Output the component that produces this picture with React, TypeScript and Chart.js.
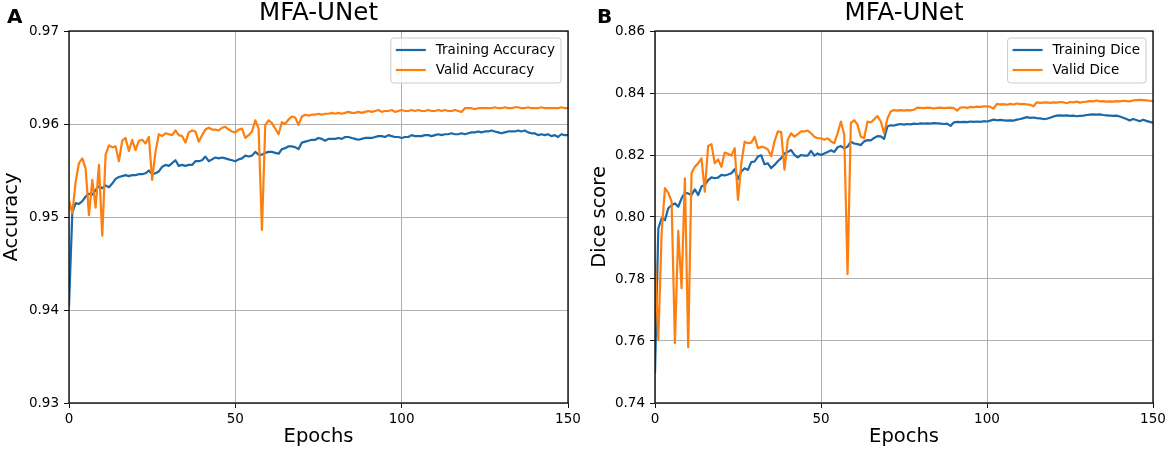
import { useEffect, useRef } from 'react';
import { Chart, registerables } from 'chart.js';

Chart.register(...registerables);

// epoch indices 0..150 (x categories)
const epochs = Array.from({ length: 151 }, (_, i) => i);
const epochTicks = [0, 50, 100, 150];
const accuracyTicks = [0.93, 0.94, 0.95, 0.96, 0.97];
const diceTicks = [0.74, 0.76, 0.78, 0.8, 0.82, 0.84, 0.86];

const trainingAccuracy = [
  0.9404, 0.9505, 0.9515, 0.9514, 0.9517, 0.9522, 0.9525, 0.9524, 0.9529, 0.9533,
  0.9531, 0.9534, 0.9532, 0.9536, 0.9541, 0.9543, 0.9544, 0.9545, 0.9544, 0.9545,
  0.9545, 0.9546, 0.9546, 0.9547, 0.955, 0.9546, 0.9547, 0.9549, 0.9554, 0.9556,
  0.9555, 0.9558, 0.9561, 0.9555, 0.9556, 0.9555, 0.9556, 0.9556, 0.956, 0.956,
  0.9561, 0.9565, 0.956, 0.9562, 0.9564, 0.9563, 0.9564, 0.9563, 0.9562, 0.9561,
  0.956, 0.9562, 0.9563, 0.9566, 0.9565, 0.9566, 0.957, 0.9567, 0.9567, 0.9569,
  0.957, 0.957, 0.9569, 0.9568, 0.9573, 0.9574, 0.9576, 0.9576, 0.9575, 0.9573,
  0.958, 0.9581, 0.9582, 0.9583, 0.9583, 0.9585, 0.9584, 0.9582, 0.9584, 0.9584,
  0.9584, 0.9585, 0.9584, 0.9586, 0.9586, 0.9585, 0.9584, 0.9583, 0.9584, 0.9585,
  0.9585, 0.9585, 0.9586, 0.9587, 0.9587, 0.9586, 0.9588, 0.9587, 0.9586, 0.9586,
  0.9585, 0.9586, 0.9586, 0.9588, 0.9587, 0.9587, 0.9587, 0.9588, 0.9588, 0.9587,
  0.9588, 0.9589, 0.9588, 0.9589, 0.9589, 0.959, 0.9589, 0.9589, 0.959, 0.9589,
  0.959, 0.9591, 0.9591, 0.9592, 0.9591, 0.9592, 0.9592, 0.9593, 0.9592, 0.9591,
  0.959, 0.9591, 0.9592, 0.9592, 0.9592, 0.9593, 0.9592, 0.9593, 0.9591, 0.959,
  0.959, 0.9588, 0.9589, 0.9588, 0.9589, 0.9587, 0.9588, 0.9586, 0.9589, 0.9588,
  0.9588,
];

const validAccuracy = [
  0.9518, 0.9504, 0.9538, 0.9558, 0.9563, 0.9552, 0.9502, 0.954, 0.951, 0.9556,
  0.948, 0.9567, 0.9577, 0.9575, 0.9576, 0.956, 0.9582, 0.9585, 0.9571, 0.9583,
  0.9572, 0.9582, 0.9583, 0.9579, 0.9586, 0.954, 0.957, 0.9589, 0.9587, 0.959,
  0.9589, 0.9588, 0.9593, 0.9588, 0.9587, 0.958, 0.9591, 0.9593, 0.9592, 0.9581,
  0.9588, 0.9594, 0.9596, 0.9594, 0.9594, 0.9593, 0.9596, 0.9597, 0.9594, 0.9592,
  0.9591, 0.9594, 0.9595, 0.9585, 0.9588, 0.9592, 0.9604, 0.9595, 0.9486, 0.9599,
  0.9604, 0.9601, 0.9595, 0.9589, 0.9602, 0.96, 0.9605, 0.9608, 0.9607, 0.9599,
  0.9608, 0.961, 0.9609, 0.961, 0.961, 0.9611, 0.961, 0.9611, 0.9611, 0.9612,
  0.9611, 0.9612, 0.9611, 0.9612, 0.9613, 0.9612, 0.9612, 0.9613, 0.9612, 0.9613,
  0.9614, 0.9613, 0.9614, 0.9615, 0.9613, 0.9614, 0.9614, 0.9615, 0.9613, 0.9614,
  0.9615, 0.9614, 0.9614, 0.9615, 0.9614, 0.9615, 0.9614, 0.9614, 0.9615, 0.9614,
  0.9614, 0.9615, 0.9614, 0.9615, 0.9614, 0.9614, 0.9615, 0.9614, 0.9613, 0.9617,
  0.9617, 0.9617, 0.9616, 0.9617, 0.9617, 0.9617, 0.9617, 0.9617, 0.9618, 0.9617,
  0.9617, 0.9618, 0.9617, 0.9617, 0.9618, 0.9618, 0.9617, 0.9617, 0.9618, 0.9617,
  0.9617, 0.9617, 0.9618, 0.9617, 0.9617, 0.9617, 0.9617, 0.9617, 0.9618, 0.9617,
  0.9617,
];

const trainingDice = [
  0.7496, 0.7963, 0.7996, 0.799, 0.8028, 0.8038, 0.8044, 0.8033, 0.806, 0.8078,
  0.8076, 0.8071, 0.8089, 0.8071, 0.8098, 0.8103, 0.8119, 0.8128, 0.8125, 0.8127,
  0.8136, 0.8134, 0.8137, 0.8141, 0.8154, 0.8122, 0.8147, 0.8157, 0.8152, 0.8177,
  0.8179, 0.8195, 0.8199, 0.817, 0.8173, 0.8158, 0.8168, 0.818, 0.819, 0.8205,
  0.821, 0.8216, 0.82, 0.8192, 0.82, 0.8198, 0.8198, 0.8213, 0.8198, 0.8205,
  0.82, 0.8205, 0.821, 0.8215, 0.821, 0.8225, 0.8229, 0.8221, 0.8227, 0.8243,
  0.8237, 0.8235, 0.8232, 0.8244, 0.8248, 0.8247, 0.8255, 0.8261, 0.826, 0.8252,
  0.8292, 0.8296, 0.8295, 0.8298, 0.83, 0.8298, 0.83, 0.8299, 0.8301, 0.83,
  0.8302, 0.8301, 0.8302, 0.8301, 0.8303, 0.8302, 0.8301, 0.83, 0.8301, 0.8294,
  0.8305, 0.8307, 0.8306, 0.8307, 0.8306, 0.8308, 0.8307, 0.8308, 0.8307, 0.8309,
  0.8308, 0.8311, 0.8314, 0.8312, 0.8313, 0.8312, 0.8311, 0.8312, 0.8311, 0.8314,
  0.8316, 0.8319, 0.8322, 0.832, 0.8321, 0.8319, 0.8318, 0.8316, 0.8317, 0.832,
  0.8324, 0.8327, 0.8328, 0.8327, 0.8328, 0.8326, 0.8327, 0.8325, 0.8326, 0.8327,
  0.8329, 0.833, 0.8331, 0.833, 0.8331, 0.8329, 0.8328, 0.8327, 0.8326, 0.8327,
  0.8324, 0.832, 0.8316, 0.8311, 0.8316, 0.8313, 0.8309, 0.8314, 0.831, 0.8307,
  0.8304,
];

const validDice = [
  0.786, 0.7603, 0.795, 0.8093, 0.8078, 0.805, 0.7593, 0.7955, 0.777, 0.8125,
  0.758, 0.8142, 0.8162, 0.8173, 0.8189, 0.8082, 0.8229, 0.8235, 0.8173, 0.8186,
  0.8162, 0.8208, 0.8204, 0.8198, 0.8222, 0.8055, 0.8173, 0.8243, 0.8238, 0.824,
  0.8259, 0.8222, 0.8227, 0.8224, 0.8218, 0.8196, 0.8244, 0.8276, 0.8274, 0.8153,
  0.8249, 0.827, 0.8259, 0.8267, 0.8276, 0.8276, 0.8279, 0.827, 0.8259, 0.8254,
  0.8254, 0.8249, 0.8254, 0.8244, 0.8238, 0.827, 0.8308, 0.8265, 0.7816, 0.8304,
  0.8312, 0.8298, 0.8259, 0.8254, 0.8308, 0.8305, 0.8315, 0.8326, 0.8308, 0.827,
  0.8318, 0.834, 0.8345, 0.8343, 0.8345, 0.8343, 0.8345, 0.8344, 0.8346, 0.8353,
  0.8352, 0.8351, 0.8353, 0.8352, 0.835, 0.8352, 0.8353, 0.8351, 0.8352, 0.8353,
  0.8351, 0.8343, 0.8353, 0.8354, 0.8352, 0.8355, 0.8354, 0.8356, 0.8355, 0.8357,
  0.8357, 0.8355, 0.835, 0.8365, 0.8363, 0.8364, 0.8362, 0.8365, 0.8363, 0.8366,
  0.8364, 0.8365, 0.8363, 0.8362, 0.8357, 0.837, 0.8368, 0.8369, 0.837, 0.8368,
  0.837, 0.8369, 0.8371, 0.837, 0.8367, 0.8371, 0.837, 0.8372, 0.8369, 0.8371,
  0.8372, 0.8374, 0.8373, 0.8376, 0.8373, 0.8374, 0.8372, 0.8373, 0.8372, 0.8374,
  0.8373, 0.8375, 0.8374, 0.8373, 0.8376, 0.8377, 0.8378, 0.8377, 0.8376, 0.8375,
  0.8374,
];

const BLUE = '#1a68a8';
const ORANGE = '#ff7f0e';
const FONT = "'DejaVu Sans', sans-serif";

// black box round the plot area, like matplotlib spines
const framePlugin = {
  id: 'frame',
  afterDatasetsDraw(chart: any) {
    const { ctx, chartArea: a } = chart;
    ctx.save();
    ctx.strokeStyle = '#111';
    ctx.lineWidth = 1.4;
    ctx.strokeRect(a.left, a.top, a.right - a.left, a.bottom - a.top);
    ctx.restore();
  },
};

// legend in a rounded box at the upper right of the plot area
const boxLegendPlugin = {
  id: 'boxLegend',
  afterDraw(chart: any) {
    const { ctx, chartArea: a } = chart;
    const sets = chart.data.datasets;
    ctx.save();
    ctx.font = `13.5px ${FONT}`;
    const textW = Math.max(...sets.map((d: any) => ctx.measureText(d.label).width));
    const w = 5 + 30 + 10 + textW + 6;
    const h = 45;
    const x = a.right - 7 - w;
    const y = a.top + 7;
    const r = 3;
    ctx.beginPath();
    ctx.moveTo(x + r, y);
    ctx.lineTo(x + w - r, y);
    ctx.quadraticCurveTo(x + w, y, x + w, y + r);
    ctx.lineTo(x + w, y + h - r);
    ctx.quadraticCurveTo(x + w, y + h, x + w - r, y + h);
    ctx.lineTo(x + r, y + h);
    ctx.quadraticCurveTo(x, y + h, x, y + h - r);
    ctx.lineTo(x, y + r);
    ctx.quadraticCurveTo(x, y, x + r, y);
    ctx.closePath();
    ctx.fillStyle = 'rgba(255,255,255,0.8)';
    ctx.fill();
    ctx.strokeStyle = '#cccccc';
    ctx.lineWidth = 1;
    ctx.stroke();
    sets.forEach((d: any, i: number) => {
      const cy = y + 12 + i * 20;
      ctx.strokeStyle = d.borderColor;
      ctx.lineWidth = 2.2;
      ctx.beginPath();
      ctx.moveTo(x + 5, cy);
      ctx.lineTo(x + 35, cy);
      ctx.stroke();
      ctx.fillStyle = '#000';
      ctx.textBaseline = 'middle';
      ctx.textAlign = 'left';
      ctx.fillText(d.label, x + 45, cy);
    });
    ctx.restore();
  },
};

// bold panel letter in the top-left corner
const letterPlugin = {
  id: 'panelLetter',
  afterDraw(chart: any, _args: any, opts: any) {
    const { ctx } = chart;
    ctx.save();
    ctx.font = `bold 20px ${FONT}`;
    ctx.fillStyle = '#000';
    ctx.textBaseline = 'alphabetic';
    ctx.textAlign = 'left';
    ctx.fillText(opts.text, opts.x, 22.5);
    ctx.restore();
  },
};

type PanelProps = {
  letter: string;
  letterX: number;
  title: string;
  yLabel: string;
  yLabelPad: number;
  yTicks: number[];
  axisWidth: number;
  series: { label: string; data: number[]; color: string }[];
};

const Panel = ({ letter, letterX, title, yLabel, yLabelPad, yTicks, axisWidth, series }: PanelProps) => {
  const chartRef = useRef<HTMLCanvasElement>(null);
  const chartInstance = useRef<Chart | null>(null);

  useEffect(() => {
    const canvas = chartRef.current;
    if (!canvas) return;
    const ctx = canvas.getContext('2d');
    if (!ctx) return;

    if (chartInstance.current) {
      chartInstance.current.destroy();
    }

    chartInstance.current = new Chart(ctx, {
      type: 'line',
      data: {
        labels: epochs,
        datasets: series.map((s, i) => ({
          label: s.label,
          data: s.data,
          borderColor: s.color,
          backgroundColor: s.color,
          borderWidth: 2.2,
          pointRadius: 0,
          tension: 0,
          borderJoinStyle: 'round' as const,
          order: series.length - i,
        })),
      },
      options: {
        animation: false,
        responsive: true,
        maintainAspectRatio: false,
        layout: { padding: { left: 0, right: 17, top: 0, bottom: 0 } },
        plugins: {
          legend: { display: false },
          tooltip: { enabled: false },
          title: {
            display: true,
            text: title,
            fullSize: false,
            color: '#000',
            font: { family: FONT, size: 24.5, weight: 'normal', lineHeight: '28px' },
            padding: { top: 0, bottom: 3 },
          },
          panelLetter: { text: letter, x: letterX },
        } as any,
        scales: {
          x: {
            type: 'linear',
            min: 0,
            max: 150,
            afterFit: (s: any) => {
              s.height = 51;
            },
            afterBuildTicks: (s: any) => {
              s.ticks = epochTicks.map((v) => ({ value: v }));
            },
            ticks: {
              color: '#000',
              font: { family: FONT, size: 13.5 },
              padding: 3,
              maxRotation: 0,
              autoSkip: false,
            },
            grid: { color: '#b0b0b0', lineWidth: 1, tickLength: 5, tickColor: '#111', tickWidth: 1 },
            border: { display: false },
            title: {
              display: true,
              text: 'Epochs',
              color: '#000',
              font: { family: FONT, size: 19.5 },
              padding: { top: 0, bottom: 5 },
            },
          },
          y: {
            type: 'linear',
            min: yTicks[0],
            max: yTicks[yTicks.length - 1],
            afterFit: (s: any) => {
              s.width = axisWidth;
            },
            afterBuildTicks: (s: any) => {
              s.ticks = yTicks.map((v) => ({ value: v }));
            },
            ticks: {
              color: '#000',
              font: { family: FONT, size: 13.5 },
              padding: 5,
              autoSkip: false,
              callback: (v: any) => Number(v).toFixed(2),
            },
            grid: { color: '#b0b0b0', lineWidth: 1, tickLength: 5, tickColor: '#111', tickWidth: 1 },
            border: { display: false },
            title: {
              display: true,
              text: yLabel,
              color: '#000',
              font: { family: FONT, size: 19.5 },
              padding: { top: yLabelPad, bottom: 0 },
            },
          },
        },
      },
      plugins: [framePlugin, boxLegendPlugin, letterPlugin],
    });

    return () => {
      if (chartInstance.current) {
        chartInstance.current.destroy();
        chartInstance.current = null;
      }
    };
  }, []);

  return (
    <div style={{ position: 'relative', width: 585, height: 454 }}>
      <canvas ref={chartRef}></canvas>
    </div>
  );
};

const App = () => {
  return (
    <div style={{ position: 'absolute', left: 0, top: 0, width: 1170, height: 454, display: 'flex', background: '#fff' }}>
      <Panel
        letter="A"
        letterX={7}
        title="MFA-UNet"
        yLabel="Accuracy"
        yLabelPad={0}
        yTicks={accuracyTicks}
        axisWidth={69}
        series={[
          { label: 'Training Accuracy', data: trainingAccuracy, color: BLUE },
          { label: 'Valid Accuracy', data: validAccuracy, color: ORANGE },
        ]}
      />
      <Panel
        letter="B"
        letterX={12}
        title="MFA-UNet"
        yLabel="Dice score"
        yLabelPad={3}
        yTicks={diceTicks}
        axisWidth={70}
        series={[
          { label: 'Training Dice', data: trainingDice, color: BLUE },
          { label: 'Valid Dice', data: validDice, color: ORANGE },
        ]}
      />
    </div>
  );
};

export default App;
